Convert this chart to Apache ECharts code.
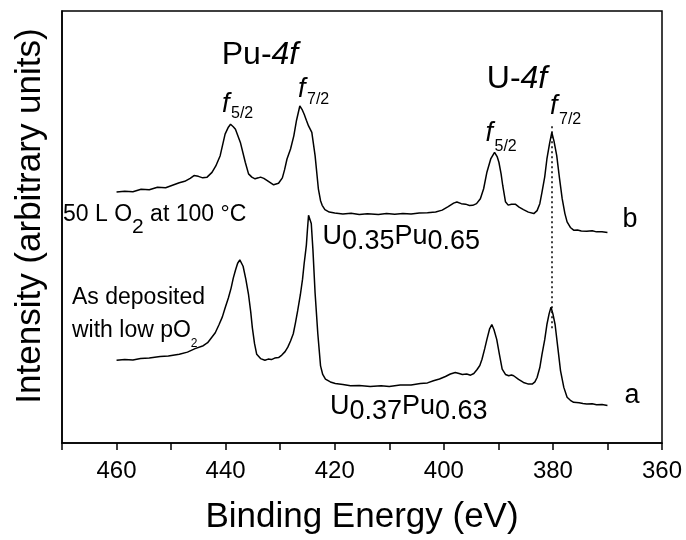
<!DOCTYPE html>
<html>
<head>
<meta charset="utf-8">
<script src="https://cdn.jsdelivr.net/npm/echarts@6/dist/echarts.min.js"></script>
<style>
html, body { margin: 0; background: #fff; }
#main { width: 686px; height: 540px; }
</style>
</head>
<body>
<div id="main"></div>
<script>
// x tick labels shown (every other tick)
const xLabels = [460, 440, 420, 400, 380, 360];

// curve b: 50 L O2 at 100 °C (binding energy in eV, intensity in arbitrary units)
const energyB = [460.0, 458.5, 457.0, 455.5, 454.0, 452.5, 451.0, 449.5, 448.5, 447.5, 446.5, 445.8, 445.0, 444.2, 443.4, 442.5,
  441.8, 441.0, 440.1, 439.5, 439.1, 438.6, 438.2, 437.3, 436.4, 435.8, 435.2, 434.6, 434.0, 433.6, 433.0, 432.3, 431.2, 430.3,
  429.6, 429.2, 428.75, 428.1, 427.5, 427.0, 426.4, 426.0, 425.6, 425.2, 424.8, 424.2, 423.6, 423.0, 422.6, 422.3, 421.8, 421.0,
  420.0, 418.5, 417.0, 415.5, 414.0, 412.0, 410.5, 409.0, 407.5, 406.0, 404.5, 403.0, 401.5, 400.3, 399.2, 398.2, 397.6, 396.8,
  396.0, 395.3, 394.7, 394.0, 393.3, 392.7, 392.1, 391.4, 390.7, 390.2, 389.9, 389.5, 389.2, 388.7, 388.2, 387.6, 386.9, 386.2,
  385.4, 384.5, 383.5, 382.9, 382.4, 382.0, 381.5, 381.1, 380.6, 380.2, 379.8, 379.3, 378.8, 378.3, 377.8, 377.4, 376.8, 376.2,
  375.5, 374.8, 373.8, 372.8, 372.0, 371.0, 370.0];
const intensityB = [252.7, 253.5, 253.0, 255.5, 255.0, 257.5, 257.0, 260.0, 262.0, 263.5, 266.5, 269.3, 268.5, 267.0, 267.7, 272.5,
  279.0, 289.3, 311.0, 318.0, 321.0, 318.5, 316.0, 302.7, 282.7, 271.0, 267.7, 266.0, 267.0, 267.7, 266.5, 264.0, 260.0, 261.5,
  267.0, 275.0, 286.0, 296.0, 309.3, 325.0, 339.3, 336.0, 331.0, 325.0, 319.3, 312.7, 289.3, 256.0, 244.0, 239.3, 235.0, 232.5,
  231.5, 230.5, 231.3, 230.0, 230.8, 230.2, 231.0, 230.3, 231.2, 230.5, 231.5, 231.8, 232.7, 234.5, 238.0, 241.5, 242.7, 241.0,
  240.5, 239.2, 239.3, 241.0, 246.0, 256.0, 272.7, 286.0, 292.7, 288.0, 282.7, 271.0, 259.3, 243.0, 239.5, 240.5, 240.5, 237.5,
  235.0, 232.5, 231.0, 234.0, 241.0, 252.7, 268.0, 286.0, 302.0, 312.7, 304.0, 289.3, 267.0, 246.0, 231.0, 222.7, 217.0, 214.3,
  214.5, 213.5, 213.3, 213.8, 212.6, 212.8, 212.0];

// curve a: as deposited with low pO2
const energyA = [460.0, 458.5, 457.0, 455.6, 454.0, 452.0, 450.5, 448.5, 447.0, 445.6, 444.1, 443.3, 442.6, 441.9, 441.2, 440.6,
  440.1, 439.5, 439.0, 438.6, 438.2, 437.8, 437.4, 437.1, 436.8, 436.3, 435.8, 435.4, 435.1, 434.7, 434.3, 433.6, 432.8, 432.2,
  431.6, 431.0, 430.3, 429.7, 429.1, 428.6, 428.1, 427.6, 427.2, 426.8, 426.3, 425.9, 425.6, 425.4, 425.2, 425.0, 424.8, 424.55,
  424.3, 424.0, 423.6, 423.1, 422.6, 422.2, 421.7, 420.8, 419.9, 418.5, 417.1, 415.5, 413.5, 411.5, 410.0, 408.0, 406.0, 404.3,
  403.0, 401.9, 400.8, 399.7, 398.8, 397.9, 397.2, 396.6, 395.8, 395.1, 394.5, 393.9, 393.4, 393.0, 392.5, 392.1, 391.6, 391.2,
  390.8, 390.3, 389.8, 389.3, 388.7, 388.1, 387.6, 387.2, 386.3, 385.4, 384.6, 383.8, 383.3, 382.9, 382.4, 382.0, 381.5, 381.1,
  380.7, 380.35, 380.0, 379.6, 379.1, 378.6, 378.0, 377.4, 376.8, 376.2, 375.2, 374.5, 373.8, 372.8, 372.0, 371.0, 370.0];
const intensityA = [83.3, 84.0, 83.5, 85.0, 85.5, 87.0, 87.5, 89.3, 91.5, 95.0, 98.0, 101.0, 106.0, 111.0, 119.3, 127.0,
  136.0, 146.0, 156.0, 166.0, 174.0, 181.0, 184.3, 183.0, 178.0, 165.0, 149.3, 132.0, 116.0, 100.0, 89.3, 85.0, 83.3, 84.5,
  84.0, 85.5, 86.0, 88.5, 92.0, 96.5, 102.7, 110.0, 121.0, 133.0, 149.3, 165.0, 181.0, 190.0, 199.3, 215.0, 229.3, 228.0,
  221.0, 195.0, 151.0, 110.0, 77.7, 69.0, 64.3, 61.5, 60.0, 59.0, 57.7, 57.8, 57.0, 57.6, 56.8, 58.3, 58.5, 60.0,
  60.5, 62.7, 64.5, 67.0, 69.5, 71.0, 70.0, 69.0, 69.5, 68.3, 70.0, 74.0, 78.0, 84.3, 95.0, 104.3, 115.0, 119.3,
  114.0, 104.3, 89.0, 74.3, 69.0, 67.7, 68.5, 67.7, 64.0, 61.0, 59.5, 59.3, 61.5, 66.0, 76.0, 89.3, 104.0, 119.3,
  130.0, 136.7, 130.0, 119.3, 96.0, 72.7, 56.0, 46.0, 43.0, 41.0, 40.5, 39.8, 39.3, 39.5, 38.5, 38.8, 37.7];

// dotted guide at the U-4f7/2 peak
const guideEnergy = 380.2;
const guideFrom = 319;
const guideTo = 113;

const FONT = '"Liberation Sans", Arial, sans-serif';

function pairs(xs, ys) {
  return xs.map((x, i) => [x, ys[i]]);
}

function txt(x, y, text, size, extra) {
  return {
    type: 'text', x: x, y: y, silent: true,
    style: Object.assign({
      text: text, fontSize: size, fontFamily: FONT, fill: '#000',
      textAlign: 'left', textVerticalAlign: 'middle'
    }, extra || {})
  };
}

const chart = echarts.init(document.getElementById('main'));

const lineStyle = { color: '#000', width: 1.5 };

chart.setOption({
  animation: false,
  backgroundColor: '#fff',
  grid: {
    left: 62, right: 24, top: 11, bottom: 94,
    show: true, borderColor: '#000', borderWidth: 1.5
  },
  xAxis: {
    type: 'value',
    inverse: true,
    min: 360, max: 470, interval: 10,
    name: 'Binding Energy (eV)',
    nameLocation: 'middle',
    nameGap: 57,
    nameTextStyle: { fontSize: 35, fontFamily: FONT, color: '#000' },
    axisLine: { lineStyle: { color: '#000', width: 1.5 } },
    axisTick: { length: 7, lineStyle: { color: '#000', width: 1.5 } },
    axisLabel: {
      fontSize: 24, fontFamily: FONT, color: '#000', margin: 16,
      formatter: v => (xLabels.indexOf(v) >= 0 ? String(v) : '')
    },
    splitLine: { show: false }
  },
  yAxis: {
    type: 'value',
    min: 0, max: 435,
    name: 'Intensity (arbitrary units)',
    nameLocation: 'middle',
    nameRotate: 90,
    nameGap: 14,
    nameTextStyle: { fontSize: 35, fontFamily: FONT, color: '#000', padding: [0, 0, 0, 22] },
    axisLine: { show: true, lineStyle: { color: '#000', width: 1.5 } },
    axisTick: { show: false },
    axisLabel: { show: false },
    splitLine: { show: false }
  },
  series: [
    {
      name: 'b', type: 'line', data: pairs(energyB, intensityB),
      showSymbol: false, lineStyle: lineStyle, silent: true,
      markLine: {
        silent: true, symbol: 'none', label: { show: false },
        lineStyle: { color: '#000', width: 1.5, type: [2, 3] },
        data: [[{ coord: [guideEnergy, guideFrom] }, { coord: [guideEnergy, guideTo] }]]
      }
    },
    {
      name: 'a', type: 'line', data: pairs(energyA, intensityA),
      showSymbol: false, lineStyle: lineStyle, silent: true
    }
  ],
  graphic: [
    txt(260, 55, '{n|Pu-}{i|4f}', 32, {
      textAlign: 'center',
      rich: { n: { fontSize: 32, fontFamily: FONT }, i: { fontSize: 32, fontFamily: FONT, fontStyle: 'italic' } }
    }),
    txt(517, 79, '{n|U-}{i|4f}', 32, {
      textAlign: 'center',
      rich: { n: { fontSize: 32, fontFamily: FONT }, i: { fontSize: 32, fontFamily: FONT, fontStyle: 'italic' } }
    }),
    txt(222, 104, 'f', 27, { fontStyle: 'italic' }),
    txt(231, 114, '5/2', 16),
    txt(298, 89, 'f', 27, { fontStyle: 'italic' }),
    txt(307, 99.5, '7/2', 16),
    txt(485.5, 133, 'f', 27, { fontStyle: 'italic' }),
    txt(494.5, 146.5, '5/2', 16),
    txt(550, 106.5, 'f', 27, { fontStyle: 'italic' }),
    txt(559, 120, '7/2', 16),
    txt(63, 220.7, '{m|50 L O}{s|2}{m| at 100 °C}', 23, {
      rich: {
        m: { fontSize: 23, fontFamily: FONT, padding: [0, 0, 12, 0] },
        s: { fontSize: 21, fontFamily: FONT, padding: [13, 0, 0, 0] }
      }
    }),
    txt(322.5, 239, '{m|U}{s|0.35}{m|Pu}{s|0.65}', 27, {
      rich: {
        m: { fontSize: 27, fontFamily: FONT, padding: [0, 0, 5, 0] },
        s: { fontSize: 27, fontFamily: FONT, padding: [5, 0, 0, 0] }
      }
    }),
    txt(72, 298, 'As deposited', 23),
    txt(72, 331, '{m|with low pO}{s|2}', 23, {
      rich: {
        m: { fontSize: 23, fontFamily: FONT },
        s: { fontSize: 12, fontFamily: FONT, padding: [26, 0, 0, 0] }
      }
    }),
    txt(330, 409, '{m|U}{s|0.37}{m|Pu}{s|0.63}', 27, {
      rich: {
        m: { fontSize: 27, fontFamily: FONT, padding: [0, 0, 5, 0] },
        s: { fontSize: 27, fontFamily: FONT, padding: [5, 0, 0, 0] }
      }
    }),
    txt(630, 220, 'b', 27, { textAlign: 'center' }),
    txt(632, 396, 'a', 27, { textAlign: 'center' })
  ]
});
</script>
</body>
</html>
